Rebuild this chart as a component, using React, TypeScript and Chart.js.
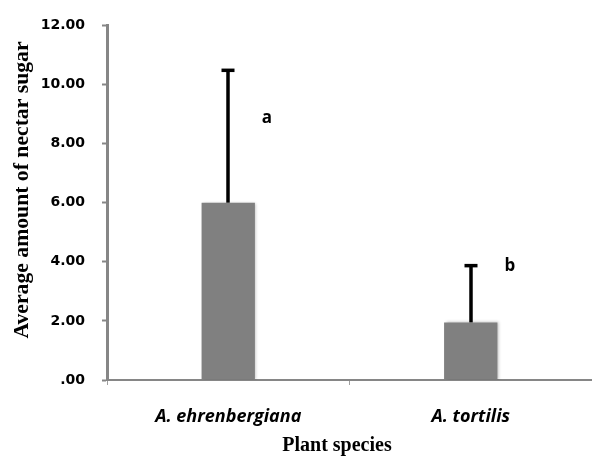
import React, { useEffect, useRef } from "react";
import { Chart, registerables } from "chart.js";

Chart.register(...registerables);

const categories = ["A. ehrenbergiana", "A. tortilis"];
const meanSugar = [6.0, 1.95];
const sdSugar = [4.48, 1.92];
const groupLetters = ["a", "b"];
const letterLevel = [8.7, 3.7];
const yTicks = [0, 2, 4, 6, 8, 10, 12];

const AXIS_GREY = "#868686";

const extras = {
  id: "extras",
  beforeDatasetDraw(chart: any) {
    const ctx = chart.ctx;
    ctx.save();
    ctx.shadowColor = "rgba(0,0,0,0.25)";
    ctx.shadowBlur = 3;
    ctx.shadowOffsetX = 1.5;
    ctx.shadowOffsetY = 0;
  },
  afterDatasetDraw(chart: any) {
    chart.ctx.restore();
  },
  afterDatasetsDraw(chart: any) {
    const ctx = chart.ctx;
    const y = chart.scales.y;
    const meta = chart.getDatasetMeta(0);
    ctx.save();
    ctx.strokeStyle = "#000";
    ctx.lineWidth = 3.5;
    meta.data.forEach((bar: any, i: number) => {
      const x = Math.round(bar.x);
      const yb = y.getPixelForValue(meanSugar[i]);
      const yt = y.getPixelForValue(meanSugar[i] + sdSugar[i]);
      ctx.beginPath();
      ctx.moveTo(x, yb);
      ctx.lineTo(x, yt);
      ctx.stroke();
      ctx.beginPath();
      ctx.moveTo(x - 6.5, yt);
      ctx.lineTo(x + 6.5, yt);
      ctx.stroke();
      ctx.fillStyle = "#000";
      ctx.font = "bold 17px 'Open Sans'";
      ctx.textAlign = "center";
      ctx.textBaseline = "alphabetic";
      ctx.fillText(groupLetters[i], x + 39, y.getPixelForValue(letterLevel[i]));
    });
    ctx.restore();
  },
  afterDraw(chart: any) {
    const ctx = chart.ctx;
    ctx.save();
    ctx.fillStyle = "#000";
    ctx.font = "bold 20px 'Liberation Serif'";
    ctx.textAlign = "center";
    ctx.textBaseline = "alphabetic";
    ctx.fillText("Plant species", 337, 451);
    ctx.translate(28, 190);
    ctx.rotate(-Math.PI / 2);
    ctx.font = "bold 21.7px 'Liberation Serif'";
    ctx.fillText("Average amount of nectar sugar", 0, 0);
    ctx.restore();
  },
};

export default function App() {
  const ref = useRef<HTMLCanvasElement>(null);
  useEffect(() => {
    if (!ref.current) return;
    const chart = new Chart(ref.current, {
      type: "bar",
      data: {
        labels: categories,
        datasets: [
          {
            data: meanSugar,
            backgroundColor: "#808080",
            borderWidth: 0,
            barPercentage: 0.22,
            categoryPercentage: 1,
          },
        ],
      },
      options: {
        responsive: false,
        animation: false,
        layout: { padding: { top: 24, left: 0, right: 0, bottom: 0 } },
        plugins: { legend: { display: false }, tooltip: { enabled: false } },
        scales: {
          x: {
            afterFit: (s: any) => {
              s.height = 78;
            },
            border: { display: true, color: AXIS_GREY, width: 2 },
            grid: {
              offset: true,
              drawOnChartArea: false,
              drawTicks: true,
              tickLength: 5,
              tickColor: "#a0a0a0",
              tickWidth: 1,
            },
            ticks: {
              color: "#000",
              padding: 21,
              font: { family: "'Open Sans'", size: 18, style: "italic", weight: "bold" },
            },
          },
          y: {
            min: 0,
            max: 12,
            afterFit: (s: any) => {
              s.width = 107;
            },
            afterBuildTicks: (s: any) => {
              s.ticks = yTicks.map((v) => ({ value: v }));
            },
            border: { display: true, color: AXIS_GREY, width: 3 },
            grid: {
              drawOnChartArea: false,
              drawTicks: true,
              tickLength: 5,
              tickColor: AXIS_GREY,
              tickWidth: 2,
            },
            ticks: {
              color: "#000",
              padding: 17,
              font: { family: "'DejaVu Sans'", size: 14, weight: "bold" },
              callback: (v: any) => (Number(v) === 0 ? ".00" : Number(v).toFixed(2)),
            },
          },
        },
      },
      plugins: [extras],
    });
    return () => chart.destroy();
  }, []);
  return (
    <div style={{ position: "absolute", left: 0, top: 0, width: 592, height: 458, background: "#fff" }}>
      <canvas ref={ref} width={592} height={458} />
    </div>
  );
}
